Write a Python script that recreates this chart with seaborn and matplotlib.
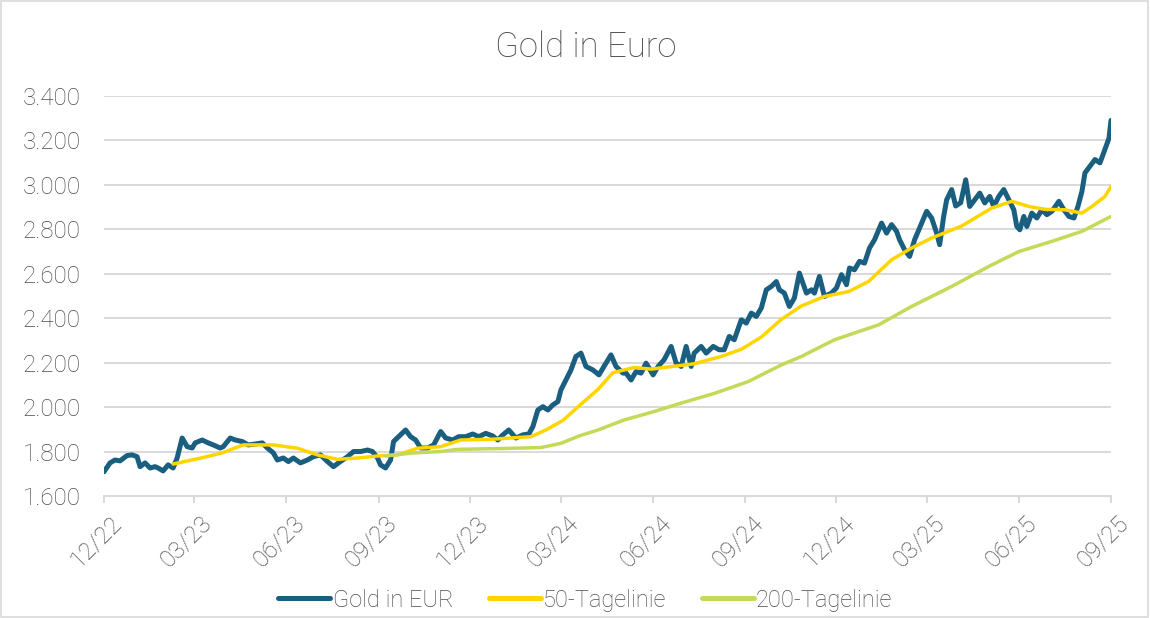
import matplotlib
matplotlib.use('Agg')
import matplotlib.pyplot as plt
import matplotlib.transforms as mtransforms
from matplotlib.ticker import FuncFormatter
from matplotlib.patches import Rectangle
import seaborn as sns
import pandas as pd

# Gold price in EUR
gold_dates = [
    '2022-12-30', '2023-01-05', '2023-01-10', '2023-01-15', '2023-01-22', '2023-01-27',
    '2023-02-01', '2023-02-04', '2023-02-09', '2023-02-14', '2023-02-19', '2023-02-22',
    '2023-02-27', '2023-03-04', '2023-03-09', '2023-03-13', '2023-03-18', '2023-03-23',
    '2023-03-28', '2023-03-31', '2023-04-07', '2023-04-13', '2023-04-18', '2023-04-25',
    '2023-04-28', '2023-05-05', '2023-05-10', '2023-05-17', '2023-05-23', '2023-05-30',
    '2023-06-06', '2023-06-11', '2023-06-17', '2023-06-21', '2023-06-27', '2023-07-02',
    '2023-07-07', '2023-07-14', '2023-07-21', '2023-07-27', '2023-08-03', '2023-08-10',
    '2023-08-16', '2023-08-21', '2023-08-30', '2023-09-05', '2023-09-12', '2023-09-19',
    '2023-09-24', '2023-09-29', '2023-10-02', '2023-10-07', '2023-10-12', '2023-10-15',
    '2023-10-20', '2023-10-27', '2023-11-01', '2023-11-06', '2023-11-11', '2023-11-18',
    '2023-11-24', '2023-12-01', '2023-12-06', '2023-12-13', '2023-12-19', '2023-12-26',
    '2024-01-02', '2024-01-08', '2024-01-15', '2024-01-22', '2024-01-27', '2024-02-01',
    '2024-02-07', '2024-02-14', '2024-02-21', '2024-02-27', '2024-03-02', '2024-03-07',
    '2024-03-12', '2024-03-17', '2024-03-22', '2024-03-27', '2024-03-30', '2024-04-04',
    '2024-04-09', '2024-04-14', '2024-04-19', '2024-04-24', '2024-05-01', '2024-05-07',
    '2024-05-12', '2024-05-19', '2024-05-24', '2024-05-31', '2024-06-03', '2024-06-08',
    '2024-06-13', '2024-06-18', '2024-06-23', '2024-06-30', '2024-07-05', '2024-07-11',
    '2024-07-18', '2024-07-23', '2024-07-28', '2024-08-02', '2024-08-07', '2024-08-10',
    '2024-08-17', '2024-08-22', '2024-08-29', '2024-09-04', '2024-09-09', '2024-09-14',
    '2024-09-19', '2024-09-26', '2024-10-01', '2024-10-06', '2024-10-11', '2024-10-16',
    '2024-10-21', '2024-10-26', '2024-10-31', '2024-11-03', '2024-11-08', '2024-11-13',
    '2024-11-18', '2024-11-23', '2024-11-30', '2024-12-05', '2024-12-08', '2024-12-13',
    '2024-12-18', '2024-12-25', '2024-12-30', '2025-01-04', '2025-01-09', '2025-01-12',
    '2025-01-17', '2025-01-22', '2025-01-27', '2025-02-01', '2025-02-06', '2025-02-13',
    '2025-02-18', '2025-02-23', '2025-02-28', '2025-03-03', '2025-03-08', '2025-03-13',
    '2025-03-18', '2025-03-23', '2025-03-30', '2025-04-04', '2025-04-09', '2025-04-12',
    '2025-04-16', '2025-04-19', '2025-04-24', '2025-04-28', '2025-05-03', '2025-05-08',
    '2025-05-12', '2025-05-17', '2025-05-22', '2025-05-27', '2025-06-01', '2025-06-05',
    '2025-06-10', '2025-06-15', '2025-06-20', '2025-06-25', '2025-06-28', '2025-07-01',
    '2025-07-05', '2025-07-08', '2025-07-13', '2025-07-18', '2025-07-23', '2025-07-28',
    '2025-08-02', '2025-08-09', '2025-08-14', '2025-08-19', '2025-08-24', '2025-08-28',
    '2025-09-01', '2025-09-04', '2025-09-09', '2025-09-14', '2025-09-19', '2025-09-24',
    '2025-09-28', '2025-09-30',
]
gold_values = [
    1709, 1749, 1762, 1758, 1782, 1785,
    1777, 1732, 1749, 1726, 1732, 1726,
    1713, 1740, 1726, 1771, 1861, 1822,
    1816, 1839, 1852, 1839, 1830, 1816,
    1822, 1861, 1852, 1845, 1830, 1834,
    1839, 1816, 1794, 1762, 1771, 1755,
    1771, 1749, 1762, 1777, 1785, 1755,
    1732, 1749, 1777, 1800, 1800, 1807,
    1800, 1771, 1740, 1726, 1762, 1845,
    1867, 1897, 1867, 1852, 1816, 1816,
    1830, 1890, 1861, 1852, 1867, 1867,
    1879, 1867, 1882, 1870, 1852, 1875,
    1897, 1861, 1875, 1879, 1912, 1987,
    2002, 1987, 2010, 2025, 2077, 2122,
    2167, 2228, 2243, 2183, 2167, 2145,
    2183, 2235, 2183, 2153, 2153, 2122,
    2160, 2153, 2198, 2145, 2183, 2213,
    2273, 2198, 2183, 2273, 2183, 2243,
    2273, 2243, 2273, 2258, 2258, 2318,
    2303, 2393, 2378, 2423, 2408, 2446,
    2528, 2543, 2565, 2528, 2513, 2453,
    2491, 2603, 2513, 2528, 2513, 2588,
    2498, 2513, 2536, 2596, 2551, 2626,
    2618, 2656, 2648, 2716, 2753, 2828,
    2783, 2821, 2791, 2753, 2708, 2678,
    2753, 2806, 2881, 2851, 2783, 2731,
    2858, 2933, 2979, 2905, 2920, 3023,
    2903, 2933, 2963, 2919, 2948, 2903,
    2948, 2979, 2933, 2888, 2813, 2798,
    2858, 2813, 2873, 2851, 2888, 2866,
    2881, 2926, 2888, 2858, 2851, 2903,
    2971, 3054, 3084, 3114, 3099, 3160,
    3210, 3290,
]

# 50-day moving average
ma50_dates = [
    '2023-03-09', '2023-04-05', '2023-04-27', '2023-05-18', '2023-06-17', '2023-07-11',
    '2023-07-31', '2023-08-20', '2023-09-09', '2023-09-29', '2023-10-19', '2023-11-08',
    '2023-12-01', '2023-12-21', '2024-01-20', '2024-02-29', '2024-03-15', '2024-04-01',
    '2024-04-17', '2024-05-06', '2024-05-21', '2024-06-11', '2024-06-28', '2024-08-10',
    '2024-09-06', '2024-09-26', '2024-10-16', '2024-11-05', '2024-11-25', '2024-12-18',
    '2025-01-11', '2025-01-31', '2025-02-23', '2025-03-15', '2025-04-04', '2025-05-04',
    '2025-06-03', '2025-06-23', '2025-07-10', '2025-07-26', '2025-08-15', '2025-09-01',
    '2025-09-11', '2025-09-24', '2025-09-30',
]
ma50_values = [
    1744, 1770, 1794, 1830, 1830, 1815,
    1785, 1765, 1771, 1780, 1785, 1815,
    1822, 1852, 1855, 1867, 1897, 1940,
    2005, 2080, 2155, 2178, 2171, 2195,
    2228, 2260, 2315, 2395, 2455, 2498,
    2520, 2565, 2663, 2716, 2761, 2815,
    2896, 2926, 2903, 2890, 2888, 2873,
    2903, 2948, 2993,
]

# 200-day moving average
ma200_dates = [
    '2023-10-07', '2023-11-04', '2023-12-01', '2023-12-18', '2024-02-04', '2024-03-10',
    '2024-03-30', '2024-04-17', '2024-05-06', '2024-06-01', '2024-07-01', '2024-07-28',
    '2024-08-31', '2024-10-03', '2024-11-05', '2024-11-25', '2024-12-28', '2025-02-10',
    '2025-03-15', '2025-04-24', '2025-05-31', '2025-06-30', '2025-08-02', '2025-09-01',
    '2025-09-30',
]
ma200_values = [
    1780, 1794, 1800, 1810, 1814, 1818,
    1837, 1870, 1897, 1942, 1980, 2018,
    2063, 2115, 2190, 2228, 2303, 2370,
    2453, 2543, 2633, 2700, 2746, 2791,
    2858,
]

tick_dates = ['2022-12-30', '2023-03-30', '2023-06-30', '2023-09-30', '2023-12-30', '2024-03-30',
              '2024-06-30', '2024-09-30', '2024-12-30', '2025-03-30', '2025-06-30', '2025-09-30']
tick_labels = ['12/22', '03/23', '06/23', '09/23', '12/23', '03/24',
               '06/24', '09/24', '12/24', '03/25', '06/25', '09/25']
y_ticks = [1600, 1800, 2000, 2200, 2400, 2600, 2800, 3000, 3200, 3400]

gold = pd.DataFrame({'date': pd.to_datetime(gold_dates), 'value': gold_values})
ma50 = pd.DataFrame({'date': pd.to_datetime(ma50_dates), 'value': ma50_values})
ma200 = pd.DataFrame({'date': pd.to_datetime(ma200_dates), 'value': ma200_values})

sns.set_theme(style='white')
plt.rcParams['font.family'] = ['Roboto', 'DejaVu Sans']
text_color = '#4d4d4d'
grid_color = '#d9d9d9'

fig = plt.figure(figsize=(11.5, 6.18), dpi=100)
ax = fig.add_axes([104 / 1150, 1 - 496 / 618, (1111 - 104) / 1150, 400 / 618])

sns.lineplot(data=gold, x='date', y='value', ax=ax, color='#1a5f80', linewidth=3.6,
             label='Gold in EUR')
sns.lineplot(data=ma50, x='date', y='value', ax=ax, color='#ffd500', linewidth=2.5,
             label='50-Tagelinie')
sns.lineplot(data=ma200, x='date', y='value', ax=ax, color='#c4d957', linewidth=2.5,
             label='200-Tagelinie')

ax.set_xlim(pd.Timestamp(tick_dates[0]), pd.Timestamp(tick_dates[-1]))
ax.set_ylim(1600, 3400)
ax.set_yticks(y_ticks)
ax.yaxis.set_major_formatter(FuncFormatter(lambda v, p: f'{v:,.0f}'.replace(',', '.')))
ax.set_xticks(pd.to_datetime(tick_dates))
ax.set_xticklabels(tick_labels, rotation=45, ha='right', va='top', rotation_mode='anchor')
ax.set_xlabel('')
ax.set_ylabel('')

ax.grid(axis='y', color=grid_color, linewidth=1.4)
ax.set_axisbelow(True)
for side in ['left', 'right', 'top']:
    ax.spines[side].set_visible(False)
ax.spines['bottom'].set_color(grid_color)
ax.spines['bottom'].set_linewidth(1.4)
ax.tick_params(axis='y', length=0, pad=17, labelsize=17.4, labelcolor=text_color)
ax.tick_params(axis='x', length=5, width=1.4, color=grid_color, pad=6, labelsize=17.4,
               labelcolor=text_color, bottom=True)
shift = mtransforms.ScaledTranslation(6 / 100, 0, fig.dpi_scale_trans)
for lbl in ax.get_xticklabels():
    lbl.set_transform(lbl.get_transform() + shift)
for lbl in ax.get_xticklabels() + ax.get_yticklabels():
    lbl.set_fontweight('light')

fig.text(0.509, 0.924, 'Gold in Euro', ha='center', va='center', fontsize=25,
         color=text_color, fontweight='light')

leg = ax.legend(loc='center', bbox_to_anchor=(0.509, 0.029), bbox_transform=fig.transFigure,
                ncol=3, frameon=False, fontsize=17, handlelength=2.2, columnspacing=1.5,
                handletextpad=0.1, borderaxespad=0, borderpad=0)
for t in leg.get_texts():
    t.set_color(text_color)
    t.set_fontweight('light')
for h in leg.get_lines():
    h.set_linewidth(3.6)
    h.set_solid_capstyle('round')

fig.patches.append(Rectangle((0.001, 0.001), 0.997, 0.997, transform=fig.transFigure,
                             fill=False, edgecolor=grid_color, linewidth=1.2))

fig.savefig('out.png', dpi=100)
